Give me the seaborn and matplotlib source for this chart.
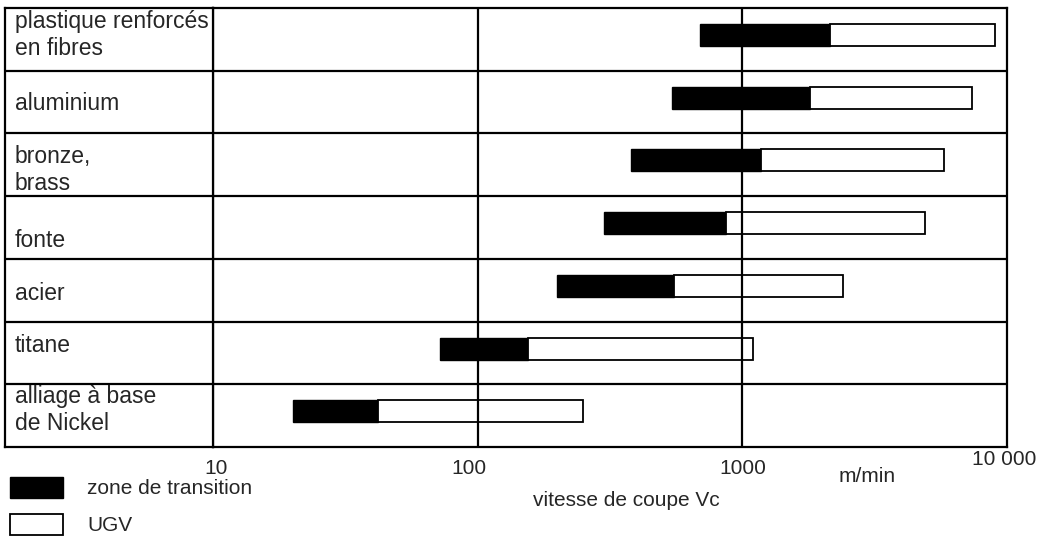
import seaborn as sns
import matplotlib.pyplot as plt
import numpy as np
from matplotlib.patches import Patch
from matplotlib.ticker import NullLocator
from matplotlib.transforms import ScaledTranslation

# Data (cutting speed Vc, m/min, log scale)
materials = ['plastique renforcés\nen fibres', 'aluminium', 'bronze,\nbrass',
             'fonte', 'acier', 'titane', 'alliage à base\nde Nickel']
transition_start = [690, 540, 380, 300, 200, 72, 20]
ugv_start = [2150, 1800, 1180, 870, 550, 155, 42]
ugv_end = [9000, 7400, 5800, 4900, 2400, 1100, 250]

tick_values = [10, 100, 1000, 10000]
tick_labels = ['10', '100', '1000', '10 000']
legend_labels = ['zone de transition', 'UGV']

sns.set_style("white")
plt.rcParams['font.family'] = ['Liberation Sans', 'DejaVu Sans']

W, H = 1046, 541
fig = plt.figure(figsize=(W / 100, H / 100), dpi=100)

# main plot area and the label column on its left
ax = fig.add_axes([213 / W, 1 - 447 / H, (1007 - 213) / W, (447 - 8) / H])
lab_ax = fig.add_axes([5 / W, 1 - 447 / H, (213 - 5) / W, (447 - 8) / H])

n = len(materials)
ypos = np.arange(n) - 0.07
bar_h = 0.35
start = np.array(transition_start)
mid = np.array(ugv_start)
end = np.array(ugv_end)

ax.barh(ypos, mid - start, left=start, height=bar_h, color='black',
        edgecolor='black', linewidth=1.0, zorder=2)
ax.barh(ypos, end - mid, left=mid, height=bar_h, facecolor='white',
        edgecolor='black', linewidth=1.3, zorder=2)

ax.set_xscale('log')
ax.set_xlim(10, 10000)
ax.xaxis.set_minor_locator(NullLocator())
for a in (ax, lab_ax):
    a.set_ylim(n - 0.5, -0.5)
    a.set_yticks([])
    for k in range(n - 1):
        a.axhline(k + 0.5, color='black', lw=1.6, zorder=3)
    for s in a.spines.values():
        s.set_visible(True)
        s.set_color('black')
        s.set_linewidth(1.6)
lab_ax.set_xlim(0, 1)
lab_ax.set_xticks([])

for v in (100, 1000):
    ax.axvline(v, color='black', lw=1.6, zorder=3)

ax.set_xticks(tick_values, tick_labels)
ax.tick_params(axis='x', length=0, pad=8.5, labelsize=15)

# small nudges of a few tick labels as in the original
shifts = {'10': (3, 0), '100': (-9, 0), '10 000': (-3, 9)}
for lab in ax.get_xticklabels():
    dx, dy = shifts.get(lab.get_text(), (0, 0))
    lab.set_transform(lab.get_transform() +
                      ScaledTranslation(dx / 100, dy / 100, fig.dpi_scale_trans))

# row labels (baseline of each line)
line_gap = 0.43
first_base = [-0.181, 1.127, 1.972, 3.312, 4.157, 4.986, 5.800]
for name, yb in zip(materials, first_base):
    for j, line in enumerate(name.split('\n')):
        lab_ax.text(0.048, yb + j * line_gap, line, fontsize=16.5,
                    ha='left', va='baseline')

ax.set_xlabel('vitesse de coupe Vc', fontsize=15)
ax.xaxis.set_label_coords(0.521, -0.100)
fig.text(867 / W, 1 - 476 / H, 'm/min', fontsize=15, ha='center', va='center')

handles = [Patch(facecolor='black', edgecolor='black', linewidth=1.0),
           Patch(facecolor='white', edgecolor='black', linewidth=1.3)]
fig.legend(handles, legend_labels, loc='upper left',
           bbox_to_anchor=(10 / W, 1 - 477 / H), frameon=False, borderpad=0,
           borderaxespad=0, handlelength=2.55, handleheight=1.15,
           handletextpad=1.15, labelspacing=0.75, fontsize=15)

fig.savefig('out.png', dpi=100)
